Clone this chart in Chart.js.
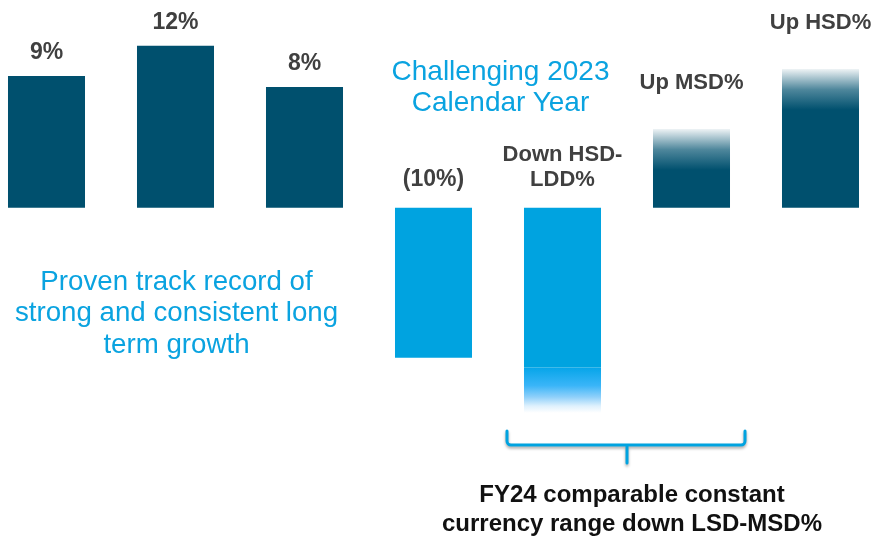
<!DOCTYPE html>
<html><head><meta charset="utf-8">
<script src="https://cdn.jsdelivr.net/npm/chart.js@4"></script>
<style>
html,body{margin:0;padding:0;width:880px;height:537px;overflow:hidden;background:#fff;}
#wrap{position:relative;width:880px;height:537px;overflow:hidden;}
canvas{position:absolute;left:-18px;top:0;}
.note{position:absolute;font-family:"Liberation Sans",Arial,Helvetica,sans-serif;text-align:center;white-space:nowrap;}
</style></head><body>
<div id="wrap">
<canvas id="c" width="903" height="537"></canvas>
<div class="note" style="left:380px;width:241px;top:54.8px;font-size:28px;line-height:31px;color:#0aa3e0;">Challenging 2023<br>Calendar Year</div>
<div class="note" style="left:0px;width:353px;top:264.5px;font-size:27.7px;line-height:31.5px;color:#0aa3e0;">Proven track record of<br>strong and consistent long<br>term growth</div>
<div class="note" style="left:432px;width:400px;top:480.3px;font-size:24px;line-height:28.7px;color:#111;font-weight:bold;">FY24 comparable constant<br>currency range down LSD-MSD%</div>
</div>
<script>
const categories = ['Year 1','Year 2','Year 3','CY2023','FY24','Year 6','Year 7'];
const solidValues = [9.76, 12, 8.94, -11.11, -11.84, 2.79, 7.24];
const rangeValues = [null, null, null, null, [-11.84, -15.2], [2.79, 5.83], [7.24, 10.27]];
const valueLabels = ['9%', '12%', '8%', '(10%)', ['Down HSD-', 'LDD%'], 'Up MSD%', 'Up HSD%'];

const DARK = '#00506e';
const LIGHT = '#00a3e0';
const barColors = solidValues.map((v, i) => (i === 3 || i === 4) ? LIGHT : DARK);

function fadeFill(ctx) {
  const chart = ctx.chart;
  if (!chart.chartArea) return 'rgba(0,0,0,0)';
  const v = ctx.raw;
  if (!v || !Array.isArray(v)) return 'rgba(0,0,0,0)';
  const y = chart.scales.y;
  const p0 = y.getPixelForValue(v[0]);
  const p1 = y.getPixelForValue(v[1]);
  const g = chart.ctx.createLinearGradient(0, p0, 0, p1);
  if (v[1] < 0) {
    g.addColorStop(0, '#06a5e9');
    g.addColorStop(0.4, '#3ab5f8');
    g.addColorStop(0.65, '#8fd0fa');
    g.addColorStop(0.85, '#dff1fd');
    g.addColorStop(1, '#ffffff');
  } else {
    g.addColorStop(0, DARK);
    g.addColorStop(0.5, '#4f879c');
    g.addColorStop(1, '#eef3f5');
  }
  return g;
}

const labelPlugin = {
  id: 'valueLabels',
  afterDatasetsDraw(chart) {
    const c = chart.ctx;
    const y = chart.scales.y;
    const meta = chart.getDatasetMeta(0);
    const zero = y.getPixelForValue(0);
    c.save();
    c.fillStyle = '#404040';
    c.textAlign = 'center';
    c.textBaseline = 'alphabetic';
    valueLabels.forEach((lab, i) => {
      const x = meta.data[i].x;
      const lines = Array.isArray(lab) ? lab : [lab];
      const numeric = i < 4;
      c.font = 'bold ' + (numeric ? 23 : 22) + 'px "Liberation Sans", Arial, sans-serif';
      const lh = 25;
      let base;
      if (solidValues[i] >= 0) {
        const r = rangeValues[i];
        if (r) base = y.getPixelForValue(Math.max(r[0], r[1])) - 40;
        else base = y.getPixelForValue(solidValues[i]) - 17;
      } else {
        base = zero - 22;
      }
      lines.forEach((t, k) => {
        c.fillText(t, x, base - (lines.length - 1 - k) * lh);
      });
    });
    // bracket under the FY24 range
    const m = chart.getDatasetMeta(0).data;
    const half = m[4].width / 2;
    const left = m[4].x - half - 17;
    const right = m[5].x + half + 15;
    const mid = (m[4].x + m[5].x) / 2;
    const top = 431, hy = 445, tip = 463, r = 4;
    c.strokeStyle = LIGHT;
    c.lineWidth = 3;
    c.lineCap = 'round';
    c.lineJoin = 'round';
    c.shadowColor = 'rgba(0,0,0,0.35)';
    c.shadowBlur = 3;
    c.shadowOffsetY = 2;
    c.beginPath();
    c.moveTo(left, top);
    c.arcTo(left, hy, left + r, hy, r);
    c.arcTo(right, hy, right, top, r);
    c.lineTo(right, top);
    c.moveTo(mid, hy);
    c.lineTo(mid, tip);
    c.stroke();
    c.restore();
  }
};

new Chart(document.getElementById('c'), {
  type: 'bar',
  data: {
    labels: categories,
    datasets: [
      { data: solidValues, backgroundColor: barColors, borderWidth: 0, grouped: false,
        barPercentage: 0.597, categoryPercentage: 1 },
      { data: rangeValues, backgroundColor: fadeFill, borderWidth: 0, grouped: false,
        barPercentage: 0.597, categoryPercentage: 1 }
    ]
  },
  options: {
    responsive: false,
    animation: false,
    devicePixelRatio: 1,
    layout: { padding: 0 },
    plugins: { legend: { display: false }, tooltip: { enabled: false } },
    scales: {
      x: { display: false },
      y: { display: false, min: -24.393, max: 15.385 }
    }
  },
  plugins: [labelPlugin]
});
</script>
</body></html>
